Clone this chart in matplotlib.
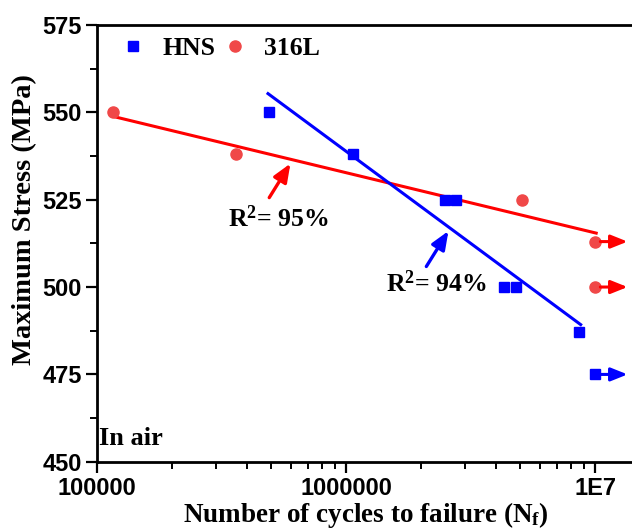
import numpy as np
import matplotlib
matplotlib.use("Agg")
import matplotlib.pyplot as plt
from matplotlib.ticker import FixedLocator, FixedFormatter, MultipleLocator, LogLocator, NullFormatter

plt.rcParams['mathtext.fontset'] = 'custom'
plt.rcParams['mathtext.rm'] = 'Liberation Serif:bold'
plt.rcParams['mathtext.it'] = 'Liberation Serif:bold'
plt.rcParams['mathtext.bf'] = 'Liberation Serif:bold'

# HNS data
hns_n = [4.9e5, 1.06e6, 2.5e6, 2.75e6, 4.3e6, 4.8e6, 8.65e6]
hns_s = [550, 538, 525, 525, 500, 500, 487]
hns_runout_n = [1e7]
hns_runout_s = [475]

# 316L data
ss_n = [1.16e5, 3.6e5, 5.1e6]
ss_s = [550, 538, 525]
ss_runout_n = [1e7, 1e7]
ss_runout_s = [513, 500]

# fitted lines S = a + b*log10(N)
hns_fit = (854.4, -52.6, 4.85e5, 8.75e6)
ss_fit = (635.9, -17.2, 1.16e5, 1.01e7)

serif = dict(family='Liberation Serif', weight='bold')

fig = plt.figure(figsize=(6.32, 5.29), dpi=100)
ax = fig.add_axes([0.154, 0.127, 0.85, 0.826])

for a, b, n0, n1, col in [(ss_fit[0], ss_fit[1], ss_fit[2], ss_fit[3], '#ff0000'),
                          (hns_fit[0], hns_fit[1], hns_fit[2], hns_fit[3], '#0000ff')]:
    xs = np.array([n0, n1])
    ax.plot(xs, a + b * np.log10(xs), color=col, lw=2.2, zorder=2)

ax.plot(hns_n + hns_runout_n, hns_s + hns_runout_s, 's', color='#0000ff', ms=7, ls='none',
        label='HNS', zorder=3)
ax.plot(ss_n + ss_runout_n, ss_s + ss_runout_s, 'o', color='#f04848', ms=8, ls='none',
        label='316L', zorder=3)

# run-out arrows
for n, s, col in list(zip(ss_runout_n, ss_runout_s, ['#ff0000'] * 2)) + \
        list(zip(hns_runout_n, hns_runout_s, ['#0000ff'])):
    ax.annotate('', xy=(n * 1.35, s), xytext=(n * 1.05, s),
                arrowprops=dict(arrowstyle='-|>,head_length=1.0,head_width=0.4',
                                color=col, lw=2.2, shrinkA=0, shrinkB=0),
                annotation_clip=False)

# R^2 annotations
ax.annotate('', xy=(6.05e5, 536.0), xytext=(4.84e5, 524.9),
            arrowprops=dict(arrowstyle='-|>,head_length=1.1,head_width=0.45',
                            color='#ff0000', lw=2.4))
ax.text(5.32e5, 519.7, r'R$^{2}$= 95%', ha='center', va='center', fontsize=18.5, **serif)
ax.annotate('', xy=(2.61e6, 516.7), xytext=(2.07e6, 505.2),
            arrowprops=dict(arrowstyle='-|>,head_length=1.1,head_width=0.45',
                            color='#0000ff', lw=2.4))
ax.text(2.3e6, 501, r'R$^{2}$= 94%', ha='center', va='center', fontsize=18.5, **serif)

ax.text(1.02e5, 453.5, 'In air', ha='left', va='bottom', fontsize=19, **serif)

ax.set_xscale('log')
ax.set_xlim(1e5, 1.44e7)
ax.set_ylim(450, 575)
ax.xaxis.set_major_locator(FixedLocator([1e5, 1e6, 1e7]))
ax.xaxis.set_major_formatter(FixedFormatter(['100000', '1000000', '1E7']))
ax.xaxis.set_minor_locator(LogLocator(base=10, subs=np.arange(2, 10)))
ax.xaxis.set_minor_formatter(NullFormatter())
ax.yaxis.set_major_locator(MultipleLocator(25))
ax.yaxis.set_minor_locator(MultipleLocator(12.5))

ax.tick_params(which='major', direction='out', length=8, width=1.6,
               labelsize=17, pad=3)
ax.tick_params(which='minor', direction='out', length=5, width=1.4)
for lab in ax.get_xticklabels() + ax.get_yticklabels():
    lab.set_family('Liberation Sans')
    lab.set_weight('bold')
for sp in ax.spines.values():
    sp.set_linewidth(2)

ax.set_xlabel(r'Number of cycles to failure (N$_\mathregular{f}$)', fontsize=19.5, labelpad=0, **serif)
ax.set_ylabel('Maximum Stress (MPa)', fontsize=20.5, **serif)
ax.yaxis.set_label_coords(-0.112, 0.554)

ax.legend(loc='upper left', ncol=2, frameon=False, prop=dict(family='Liberation Serif',
          weight='bold', size=18.5), handletextpad=0.4, columnspacing=0.0,
          bbox_to_anchor=(-0.008, 1.02), borderaxespad=0.4, handlelength=1.5)

fig.savefig('out.png', dpi=100)
